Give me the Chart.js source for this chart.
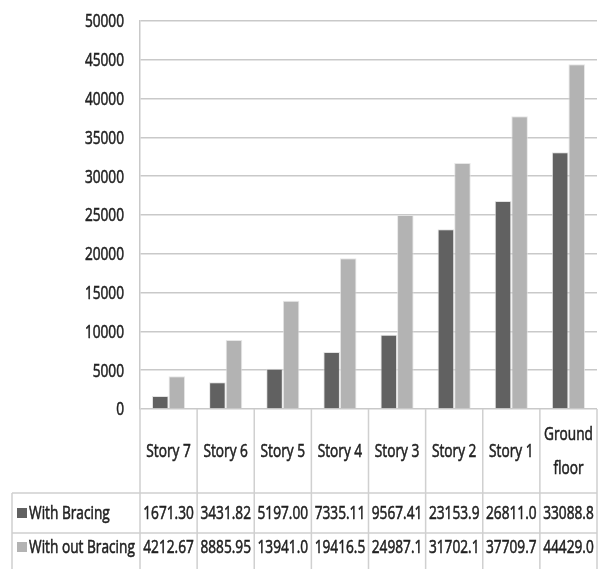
<!DOCTYPE html>
<html>
<head>
<meta charset="utf-8">
<script src="https://cdn.jsdelivr.net/npm/chart.js@4/dist/chart.umd.min.js"></script>
<style>
  html, body { margin: 0; padding: 0; background: #fff; }
  #chart { display: block; }
</style>
</head>
<body>
<canvas id="chart" width="601" height="569"></canvas>
<script>
// ===== DATA =====
const categories = ["Story 7", "Story 6", "Story 5", "Story 4", "Story 3", "Story 2", "Story 1", ["Ground", "floor"]];
const withBracing = [1671.30, 3431.82, 5197.00, 7335.11, 9567.41, 23153.9, 26811.0, 33088.8];
const withoutBracing = [4212.67, 8885.95, 13941.0, 19416.5, 24987.1, 31702.1, 37709.7, 44429.0];
const withBracingText = ["1671.30", "3431.82", "5197.00", "7335.11", "9567.41", "23153.9", "26811.0", "33088.8"];
const withoutBracingText = ["4212.67", "8885.95", "13941.0", "19416.5", "24987.1", "31702.1", "37709.7", "44429.0"];
const seriesNames = ["With Bracing", "With out Bracing"];
const yTicks = { min: 0, max: 50000, step: 5000 };

const FONT = '19px "Open Sans", "Liberation Sans", sans-serif';
const SQUEEZE = 0.72; // the original text is narrow, like a condensed face
const TEXT = "#222";
const DARK = "#616161";
const LIGHT = "#b3b3b3";
const GRID = "#c9c9c9";

// draw one narrow label anchored at (x, y), slightly heavier than the plain face
function narrowText(ctx, str, x, y, align) {
  ctx.save();
  ctx.translate(x, y);
  ctx.scale(SQUEEZE, 1);
  ctx.textAlign = align;
  ctx.fillText(str, 0, 0);
  ctx.strokeStyle = TEXT;
  ctx.lineWidth = 0.6;
  ctx.strokeText(str, 0, 0);
  ctx.restore();
}

// ===== Y LABELS + DATA TABLE UNDER THE AXIS =====
const dataTable = {
  id: "dataTable",
  afterDraw(chart) {
    const { ctx, chartArea, scales: { x, y } } = chart;
    const n = categories.length;
    const edges = [];
    for (let i = 0; i <= n; i++) edges.push(x.getPixelForValue(i - 0.5));
    const top = chartArea.bottom;
    const row1 = top + 84;
    const row2 = row1 + 40;
    const bottom = chart.height;
    const left = 12;

    ctx.save();
    ctx.strokeStyle = "#d0d0d0";
    ctx.lineWidth = 1.5;
    ctx.beginPath();
    edges.forEach((ex) => { ctx.moveTo(ex, top); ctx.lineTo(ex, bottom); });
    ctx.moveTo(left, row1); ctx.lineTo(left, bottom);
    ctx.moveTo(left, row1); ctx.lineTo(edges[n], row1);
    ctx.moveTo(left, row2); ctx.lineTo(edges[n], row2);
    ctx.stroke();

    ctx.fillStyle = TEXT;
    ctx.font = FONT;
    ctx.textBaseline = "middle";

    // y tick labels
    y.ticks.forEach((t) => {
      narrowText(ctx, String(t.value), chartArea.left - 16, y.getPixelForValue(t.value) + 1, "right");
    });

    categories.forEach((c, i) => {
      const cx = (edges[i] + edges[i + 1]) / 2;
      const lines = Array.isArray(c) ? c : [c];
      const lh = 34;
      lines.forEach((l, j) => {
        narrowText(ctx, l, cx, (top + row1) / 2 + 1 + (j - (lines.length - 1) / 2) * lh, "center");
      });
      narrowText(ctx, withBracingText[i], cx, (row1 + row2) / 2 + 1, "center");
      narrowText(ctx, withoutBracingText[i], cx, row2 + 15, "center");
    });

    [[DARK, (row1 + row2) / 2, seriesNames[0]], [LIGHT, row2 + 14, seriesNames[1]]].forEach(([col, yy, name]) => {
      ctx.fillStyle = col;
      ctx.fillRect(17, yy - 5, 10, 10);
      ctx.fillStyle = TEXT;
      narrowText(ctx, name, 29, yy + 1, "left");
    });
    ctx.restore();
  }
};

new Chart(document.getElementById("chart").getContext("2d"), {
  type: "bar",
  data: {
    labels: categories,
    datasets: [
      { label: seriesNames[0], data: withBracing, backgroundColor: DARK, borderColor: "rgba(220,220,220,0.8)", borderWidth: 1 },
      { label: seriesNames[1], data: withoutBracing, backgroundColor: LIGHT, borderColor: "rgba(225,225,225,0.8)", borderWidth: 1 }
    ]
  },
  options: {
    responsive: false,
    animation: false,
    devicePixelRatio: 1,
    layout: { padding: { left: 0, right: 4, top: 21, bottom: 160 } },
    datasets: { bar: { categoryPercentage: 0.58, barPercentage: 1.0 } },
    plugins: { legend: { display: false }, tooltip: { enabled: false } },
    scales: {
      x: { display: false },
      y: {
        min: yTicks.min,
        max: yTicks.max,
        afterFit: (s) => { s.width = 140; },
        ticks: { stepSize: yTicks.step, display: false },
        grid: { color: GRID, lineWidth: 1.5, drawTicks: false },
        border: { color: GRID, width: 1.5 }
      }
    }
  },
  plugins: [dataTable]
});
</script>
</body>
</html>
